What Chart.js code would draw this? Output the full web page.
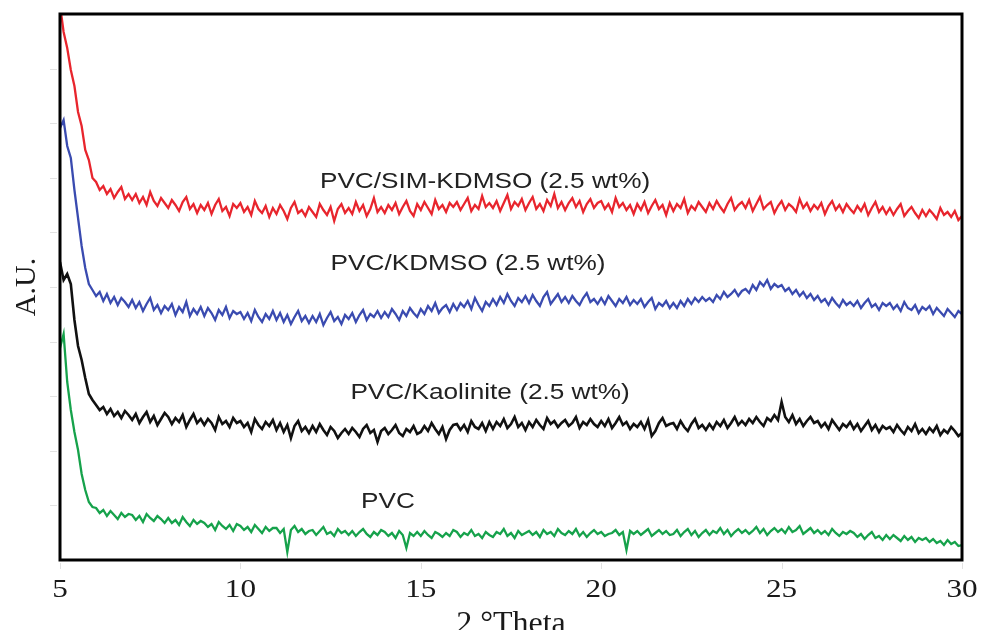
<!DOCTYPE html>
<html>
<head>
<meta charset="utf-8">
<script src="https://cdn.jsdelivr.net/npm/chart.js@4.4.1/dist/chart.umd.min.js"></script>
<style>
  html, body { margin: 0; padding: 0; background: #fff; }
  #wrap { width: 982px; height: 630px; position: relative; }
</style>
</head>
<body>
<div id="wrap"><canvas id="xrdCanvas"></canvas></div>
<script>
// 2θ positions (deg)
const twoTheta = [
  5.0, 5.1, 5.2, 5.3, 5.4, 5.5, 5.6, 5.7, 5.8, 5.9,
  6.0, 6.1, 6.2, 6.3, 6.4, 6.5, 6.6, 6.7, 6.8, 6.9,
  7.0, 7.1, 7.2, 7.3, 7.4, 7.5, 7.6, 7.7, 7.8, 7.9,
  8.0, 8.1, 8.2, 8.3, 8.4, 8.5, 8.6, 8.7, 8.8, 8.9,
  9.0, 9.1, 9.2, 9.3, 9.4, 9.5, 9.6, 9.7, 9.8, 9.9,
  10.0, 10.1, 10.2, 10.3, 10.4, 10.5, 10.6, 10.7, 10.8, 10.9,
  11.0, 11.1, 11.2, 11.3, 11.4, 11.5, 11.6, 11.7, 11.8, 11.9,
  12.0, 12.1, 12.2, 12.3, 12.4, 12.5, 12.6, 12.7, 12.8, 12.9,
  13.0, 13.1, 13.2, 13.3, 13.4, 13.5, 13.6, 13.7, 13.8, 13.9,
  14.0, 14.1, 14.2, 14.3, 14.4, 14.5, 14.6, 14.7, 14.8, 14.9,
  15.0, 15.1, 15.2, 15.3, 15.4, 15.5, 15.6, 15.7, 15.8, 15.9,
  16.0, 16.1, 16.2, 16.3, 16.4, 16.5, 16.6, 16.7, 16.8, 16.9,
  17.0, 17.1, 17.2, 17.3, 17.4, 17.5, 17.6, 17.7, 17.8, 17.9,
  18.0, 18.1, 18.2, 18.3, 18.4, 18.5, 18.6, 18.7, 18.8, 18.9,
  19.0, 19.1, 19.2, 19.3, 19.4, 19.5, 19.6, 19.7, 19.8, 19.9,
  20.0, 20.1, 20.2, 20.3, 20.4, 20.5, 20.6, 20.7, 20.8, 20.9,
  21.0, 21.1, 21.2, 21.3, 21.4, 21.5, 21.6, 21.7, 21.8, 21.9,
  22.0, 22.1, 22.2, 22.3, 22.4, 22.5, 22.6, 22.7, 22.8, 22.9,
  23.0, 23.1, 23.2, 23.3, 23.4, 23.5, 23.6, 23.7, 23.8, 23.9,
  24.0, 24.1, 24.2, 24.3, 24.4, 24.5, 24.6, 24.7, 24.8, 24.9,
  25.0, 25.1, 25.2, 25.3, 25.4, 25.5, 25.6, 25.7, 25.8, 25.9,
  26.0, 26.1, 26.2, 26.3, 26.4, 26.5, 26.6, 26.7, 26.8, 26.9,
  27.0, 27.1, 27.2, 27.3, 27.4, 27.5, 27.6, 27.7, 27.8, 27.9,
  28.0, 28.1, 28.2, 28.3, 28.4, 28.5, 28.6, 28.7, 28.8, 28.9,
  29.0, 29.1, 29.2, 29.3, 29.4, 29.5, 29.6, 29.7, 29.8, 29.9,
  30.0
];

// intensities (a.u., curves already offset vertically)
const simKdmso = [
  555, 528, 512, 490, 474, 448, 434, 410, 400, 382,
  378, 370, 374, 366, 371, 362, 368, 373, 361, 366,
  360, 366, 357, 363, 355, 368, 359, 354, 362, 357,
  352, 360, 355, 349, 358, 363, 351, 356, 347, 355,
  350, 357, 346, 355, 361, 349, 353, 344, 356, 352,
  357, 348, 353, 345, 359, 351, 347, 354, 343, 352,
  346, 355, 349, 341, 352, 358, 347, 350, 344, 353,
  348, 343, 356, 350, 345, 353, 339, 351, 356, 347,
  352, 346, 358, 349, 355, 344, 351, 362, 348, 353,
  347, 355, 350, 357, 346, 353, 359, 349, 344, 356,
  350, 358, 352, 346, 360, 351, 355, 348, 357, 353,
  358, 350, 356, 362, 349, 355, 351, 364, 353, 357,
  352, 359, 349, 357, 365, 351, 358, 354, 361, 350,
  357, 363, 351, 356, 349, 360, 354, 366, 352, 358,
  350, 357, 362, 353, 359, 348, 356, 361, 352, 357,
  359, 351, 356, 348, 362, 353, 357, 350, 355, 346,
  356, 350, 358, 347, 354, 360, 351, 355, 345, 357,
  349, 356, 352, 361, 347, 354, 350, 358, 353, 348,
  357, 351, 359, 353, 348, 356, 362, 350, 355, 358,
  352, 360, 349, 356, 363, 351, 355, 358, 347, 354,
  359, 350, 356, 353, 348, 361, 352, 357, 349, 355,
  351, 357, 346, 354, 359, 350, 355, 348, 356, 351,
  347, 354, 349, 356, 345, 352, 358, 348, 353, 346,
  352, 345, 351, 356, 344, 349, 353, 347, 342, 350,
  344, 350, 346, 341, 352, 345, 348, 343, 349, 340,
  344
];

const kdmso = [
  432, 440, 414, 402, 370, 342, 314, 292, 276, 270,
  264, 268, 259, 266, 257, 263, 255, 262, 258, 253,
  260, 252, 258, 249, 256, 262, 250, 255, 247, 254,
  250, 256, 245, 253, 248, 258, 244, 251, 246, 253,
  244, 252, 247, 240, 250, 245, 253, 242, 249, 246,
  248, 241, 247, 239, 250, 243, 238, 246, 241, 249,
  240, 247, 238, 245, 236, 243, 249, 239, 244, 237,
  244, 238, 246, 235, 242, 248, 239, 243, 236, 245,
  241, 247, 238, 245, 250, 240, 246, 243, 249, 242,
  248, 243, 251, 246, 240, 249, 244, 252, 247, 243,
  251, 246, 254, 249, 257, 247, 252, 255, 248, 256,
  250, 257, 253, 259, 251, 262, 255, 249, 258, 254,
  261, 255, 263, 257, 266, 259, 254, 262, 258, 264,
  257, 265, 259, 254, 263, 268, 256, 261, 266, 258,
  263, 257, 264, 259, 255, 262, 267, 258, 261, 256,
  262, 256, 264, 259, 254, 261, 257, 263, 255, 260,
  256, 261, 253, 258, 262, 251, 257, 254, 259, 252,
  257, 252, 259, 254, 261, 256, 262, 258, 263, 259,
  262, 258, 265, 261, 268, 263, 266, 270, 264, 269,
  271, 267, 275, 270, 278, 274, 280, 271, 276, 273,
  275, 269, 272, 266, 270, 264, 268, 262, 266, 260,
  264, 258, 261, 255, 262, 257, 253, 260, 255, 258,
  254, 259, 252, 257, 261, 253, 256, 250, 257, 254,
  257, 251, 255, 249, 258, 252, 250, 255, 247, 253,
  250, 254, 246, 252, 248, 244, 251, 247, 243, 249,
  246
];

const kaolinite = [
  298, 280, 286, 276, 240, 214, 200, 182, 166, 160,
  155, 150, 153, 146, 151, 144, 148, 142, 149, 145,
  140, 146, 137, 143, 148, 138, 144, 135, 141, 147,
  143, 136, 142, 138, 145, 133, 140, 146, 137, 141,
  135, 141, 137, 130, 143, 136, 139, 133, 142, 137,
  139, 133, 137, 128, 141, 135, 131, 138, 134, 140,
  130, 137, 128, 135, 122, 134, 139, 129, 133, 127,
  134, 128, 136, 130, 125, 133, 129, 122, 127, 131,
  126, 132, 128, 123, 131, 135, 127, 130, 118, 129,
  132, 126, 130, 135, 127, 124, 131, 128, 134, 126,
  128, 134, 129, 137, 131, 126, 133, 121, 130, 135,
  136, 130, 135, 128, 139, 133, 131, 137, 129, 138,
  131, 138, 134, 141, 132, 136, 143, 133, 137, 130,
  138, 133, 140, 135, 131, 142, 136, 139, 133, 137,
  140, 134, 137, 143, 132, 138, 135, 141, 136, 133,
  139, 134, 141, 132, 137, 143, 135, 138, 131, 136,
  133, 138, 131, 140, 124, 129, 137, 142, 134, 136,
  137, 131, 139, 133, 129, 136, 141, 132, 135, 130,
  136, 131, 138, 134, 140, 132, 137, 143, 135, 139,
  135, 141, 137, 143, 138, 134, 142, 139, 145, 140,
  158, 143, 138, 145, 136, 141, 134, 139, 143, 137,
  139, 133, 137, 131, 140, 135, 130, 136, 133, 138,
  131, 136, 129, 134, 139, 130, 135, 128, 134, 131,
  133, 128, 135, 130, 126, 133, 129, 136, 127, 131,
  126, 132, 128, 134, 125, 130, 127, 133, 129, 124,
  127
];

const pvc = [
  212, 226, 178, 150, 128, 110, 86, 70, 58, 53,
  52, 47, 50, 44, 49, 45, 41, 47, 43, 46,
  45, 40, 44, 38, 46, 42, 39, 44, 41, 37,
  42, 37, 40, 35, 43, 38, 34, 40, 36, 39,
  37, 33, 36, 30, 38, 34, 31, 35, 29, 36,
  34, 30, 33, 28, 35, 31, 27, 33, 29, 32,
  32, 27, 31, 8, 30, 34, 28, 31, 26, 29,
  30, 25, 29, 33, 26, 28, 24, 31, 27, 29,
  25, 29, 24, 28, 31, 26, 23, 28, 25, 30,
  28, 24, 27, 22, 29, 25, 12, 27, 24, 28,
  24, 29, 25, 22, 28, 26, 23, 27, 24, 30,
  28, 23, 27, 25, 30, 24, 26, 22, 28, 25,
  23, 28, 26, 31, 24, 27, 22, 29, 25, 27,
  29, 25, 28, 23, 30, 26, 28, 24, 31, 27,
  25, 29, 26, 31, 24, 28, 23, 27, 30, 26,
  28, 24, 26, 27, 30, 25, 28, 10, 29, 26,
  29, 25, 28, 31, 24, 27, 30, 26, 29, 25,
  26, 30, 24, 28, 31, 25, 29, 23, 27, 30,
  25, 29, 27, 32, 26, 30, 24, 28, 31, 27,
  30, 26, 29, 33, 27, 31, 25, 29, 32, 28,
  31, 27, 33, 28, 30, 34, 26, 29, 32, 27,
  30, 26, 29, 25, 31, 27, 24, 28, 26, 29,
  27, 23, 26, 21, 25, 28, 22, 24, 20, 25,
  21, 25, 22, 19, 24, 20, 23, 18, 22, 20,
  22, 18, 21, 17, 19, 15, 20, 16, 18, 14,
  15
];

const seriesNames = ["PVC/SIM-KDMSO (2.5 wt%)", "PVC/KDMSO (2.5 wt%)", "PVC/Kaolinite (2.5 wt%)", "PVC"];
const seriesColors = ["#e8252d", "#3a4bb0", "#111111", "#16a24b"];
const seriesWidths = [2.3, 2.3, 2.6, 2.3];
const xTicks = [5, 10, 15, 20, 25, 30];
const yMax = 546;

function toPoints(ys) {
  return twoTheta.map((t, i) => ({ x: t, y: ys[i] }));
}

// where each curve's caption sits, in data coordinates
const captionAt = [
  { x: 16.78, y: 378 },
  { x: 16.31, y: 296 },
  { x: 16.92, y: 167 },
  { x: 14.09, y: 58 }
];

function drawStretched(ctx, text, x, y, font, sx, baseline) {
  ctx.save();
  ctx.translate(x, y);
  ctx.scale(sx, 1);
  ctx.font = font;
  ctx.textAlign = "center";
  ctx.textBaseline = baseline || "middle";
  ctx.fillText(text, 0, 0);
  ctx.restore();
}

const framePlugin = {
  id: "xrdFrame",
  afterDraw(chart) {
    const ctx = chart.ctx;
    const area = chart.chartArea;
    const xs = chart.scales.x;
    const ys = chart.scales.y;
    ctx.save();

    // faint ticks outside the frame
    ctx.strokeStyle = "#e2e2e2";
    ctx.lineWidth = 1;
    for (let k = 1; k < 10; k++) {
      const py = Math.round(ys.getPixelForValue(yMax * k / 10)) + 0.5;
      ctx.beginPath();
      ctx.moveTo(area.left - 10, py);
      ctx.lineTo(area.left - 3, py);
      ctx.stroke();
    }
    xTicks.forEach(t => {
      const px = Math.round(xs.getPixelForValue(t)) + 0.5;
      ctx.beginPath();
      ctx.moveTo(px, area.bottom + 3);
      ctx.lineTo(px, area.bottom + 9);
      ctx.stroke();
    });

    // frame
    ctx.strokeStyle = "#000";
    ctx.lineWidth = 3;
    ctx.strokeRect(area.left, area.top, area.right - area.left, area.bottom - area.top);

    // tick labels
    ctx.fillStyle = "#1a1a1a";
    xTicks.forEach(t => {
      drawStretched(ctx, String(t), xs.getPixelForValue(t), area.bottom + 30, '26px "Liberation Serif"', 1.2);
    });

    // axis titles
    drawStretched(ctx, "2 \u00b0Theta", (area.left + area.right) / 2, 633, '32px "Liberation Serif"', 1.0, "alphabetic");
    ctx.save();
    ctx.translate(27, (area.top + area.bottom) / 2);
    ctx.rotate(-Math.PI / 2);
    ctx.font = '30px "Liberation Serif"';
    ctx.textAlign = "center";
    ctx.textBaseline = "middle";
    ctx.fillText("A.U.", 0, 0);
    ctx.restore();

    // curve captions
    ctx.fillStyle = "#222";
    seriesNames.forEach((name, i) => {
      const p = captionAt[i];
      drawStretched(ctx, name, xs.getPixelForValue(p.x), ys.getPixelForValue(p.y), '22px "Liberation Sans"', 1.19);
    });
    ctx.restore();
  }
};

const curves = [simKdmso, kdmso, kaolinite, pvc];

const ctx = document.getElementById("xrdCanvas").getContext("2d");
const chart = new Chart(ctx, {
  type: "line",
  data: {
    datasets: curves.map((ys, i) => ({
      label: seriesNames[i],
      data: toPoints(ys),
      borderColor: seriesColors[i],
      borderWidth: seriesWidths[i],
      borderJoinStyle: "miter",
      pointRadius: 0,
      tension: 0,
      fill: false
    }))
  },
  options: {
    responsive: true,
    maintainAspectRatio: false,
    animation: false,
    layout: { padding: { left: 60, right: 20, top: 14, bottom: 70 } },
    plugins: { legend: { display: false }, tooltip: { enabled: false } },
    scales: {
      x: { type: "linear", min: 5, max: 30, display: false },
      y: { type: "linear", min: 0, max: yMax, display: false }
    }
  },
  plugins: [framePlugin]
});
</script>
</body>
</html>
